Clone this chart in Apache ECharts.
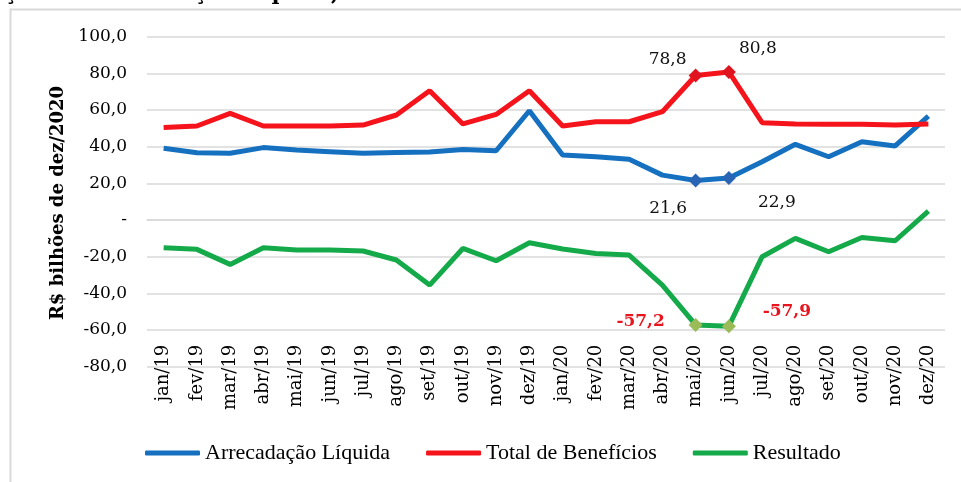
<!DOCTYPE html>
<html>
<head>
<meta charset="utf-8">
<script src="https://cdn.jsdelivr.net/npm/echarts@6/dist/echarts.min.js"></script>
<style>
html,body{margin:0;padding:0;background:#fff;}
#chart{width:961px;height:482px;}
</style>
</head>
<body>
<div id="chart"></div>
<script>
const categories = ['jan/19','fev/19','mar/19','abr/19','mai/19','jun/19','jul/19','ago/19','set/19','out/19','nov/19','dez/19',
  'jan/20','fev/20','mar/20','abr/20','mai/20','jun/20','jul/20','ago/20','set/20','out/20','nov/20','dez/20'];
const arrecadacao = [39.1,36.7,36.4,39.5,38.2,37.3,36.4,36.9,37.1,38.5,37.8,59.6,
  35.5,34.5,33.1,24.5,21.6,22.9,31.8,41.3,34.5,42.7,40.4,56.7];
const beneficios = [50.5,51.3,58.2,51.3,51.3,51.3,51.8,57.3,70.5,52.4,57.6,70.5,
  51.3,53.6,53.6,59.1,78.8,80.8,53.1,52.4,52.2,52.2,51.8,52.4];
const resultado = [-15.1,-16.0,-24.2,-15.1,-16.4,-16.4,-16.9,-21.8,-35.5,-15.5,-22.2,-12.4,
  -15.8,-18.2,-19.1,-35.5,-57.2,-57.9,-20.0,-10.0,-17.3,-9.5,-11.3,4.9];
const seriesNames = ['Arrecadação Líquida','Total de Benefícios','Resultado'];
const highlighted = ['mai/20','jun/20'];
const titleText = 'Evolução da Arrecadação Líquida, do Total de Benefícios e do Resultado do RGPS';
const yAxisName = 'R$ bilhões de dez/2020';

const fmt = v => v.toFixed(1).replace('.', ',');

function buildData(values, markerColor, labelOffsets, labelStyle) {
  return values.map((v, i) => {
    const k = highlighted.indexOf(categories[i]);
    if (k < 0) return v;
    return {
      value: v,
      symbol: 'diamond',
      symbolSize: 14,
      itemStyle: { color: markerColor },
      label: Object.assign({
        show: true,
        position: 'inside',
        offset: labelOffsets[k],
        formatter: p => fmt(p.value)
      }, labelStyle)
    };
  });
}

const blackLabel = { fontFamily: 'DejaVu Serif', fontSize: 17, color: '#111' };
const redLabel = { fontFamily: 'DejaVu Serif', fontSize: 17, fontWeight: 'bold', color: '#e8141e' };

const chart = echarts.init(document.getElementById('chart'), null, { renderer: 'canvas' });
chart.setOption({
  animation: false,
  backgroundColor: '#fff',
  graphic: [
    { type: 'rect', left: 8, top: 7, shape: { x: 0, y: 0, width: 1000, height: 474 },
      style: { fill: 'none', stroke: '#d9d9d9', lineWidth: 2 }, silent: true, z: -1 },
    { type: 'text', x: -61, y: 5, silent: true,
      style: { text: titleText, font: 'bold 21px "DejaVu Serif"', fill: '#000', verticalAlign: 'bottom', align: 'left' } },
    { type: 'text', x: 58, y: 203, rotation: Math.PI / 2, silent: true,
      style: { text: yAxisName, font: 'bold 18px "DejaVu Serif"', fill: '#000', align: 'center', verticalAlign: 'middle' } }
  ],
  grid: { left: 147, right: 16, top: 36.7, bottom: 115.3, containLabel: false },
  legend: {
    data: seriesNames.map(n => ({ name: n, icon: 'roundRect' })),
    left: 140, top: 437,
    itemWidth: 55, itemHeight: 5, itemGap: 36,
    textStyle: { fontFamily: 'Liberation Serif', fontSize: 22, color: '#000' }
  },
  xAxis: {
    type: 'category',
    data: categories,
    boundaryGap: true,
    axisLine: { show: true, lineStyle: { color: '#d9d9d9', width: 1.5 } },
    axisTick: { show: false },
    axisLabel: { interval: 0, rotate: 90, margin: -22, fontFamily: 'DejaVu Serif', fontSize: 18, color: '#000' },
    splitLine: { show: false }
  },
  yAxis: {
    type: 'value',
    min: -80, max: 100, interval: 20,
    axisLine: { show: false },
    axisTick: { show: false },
    axisLabel: {
      margin: 20,
      fontFamily: 'DejaVu Serif', fontSize: 17, color: '#000',
      formatter: v => (v === 0 ? '-' : fmt(v))
    },
    splitLine: { show: true, lineStyle: { color: '#d9d9d9', width: 1.5 } }
  },
  series: [
    {
      name: seriesNames[0], type: 'line', symbol: 'none', showSymbol: true,
      lineStyle: { width: 5, color: '#1570c0' }, itemStyle: { color: '#1570c0' },
      data: buildData(arrecadacao, '#2a64b4', [[-27.5, 28], [48, 25]], blackLabel), z: 3
    },
    {
      name: seriesNames[1], type: 'line', symbol: 'none', showSymbol: true,
      lineStyle: { width: 5, color: '#f5141c' }, itemStyle: { color: '#f5141c' },
      data: buildData(beneficios, '#e0141e', [[-28, -16], [29, -23]], blackLabel), z: 4
    },
    {
      name: seriesNames[2], type: 'line', symbol: 'none', showSymbol: true,
      lineStyle: { width: 5, color: '#14aa4a' }, itemStyle: { color: '#14aa4a' },
      data: buildData(resultado, '#9bbb59', [[-55, -3], [58, -15]], redLabel), z: 2
    }
  ]
});
</script>
</body>
</html>
